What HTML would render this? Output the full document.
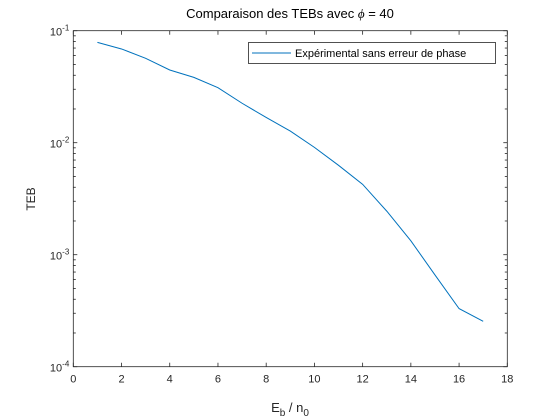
<!DOCTYPE html>
<html><head><meta charset="utf-8"><style>
body{margin:0;background:#fff;}
svg{display:block;font-family:"Liberation Sans",sans-serif;}
</style></head><body>
<svg id="chart" width="560" height="420" viewBox="0 0 560 420">
<rect x="0" y="0" width="560" height="420" fill="#fff"/>
<g id="axes"></g>
<polyline id="series" fill="none" stroke="#0072bd" stroke-width="1"/>
<text x="290" y="18" text-anchor="middle" font-size="13" fill="#000">Comparaison des TEBs avec <tspan font-style="italic" font-family="Liberation Serif">ϕ</tspan> = 40</text>
<text x="290" y="412" text-anchor="middle" font-size="13" fill="#262626">E<tspan font-size="10" dy="4">b</tspan><tspan dy="-4"> / n</tspan><tspan font-size="10" dy="4">0</tspan></text>
<text transform="translate(35,199) rotate(-90)" text-anchor="middle" font-size="12" fill="#262626">TEB</text>
<g>
<rect x="248.5" y="42.5" width="247" height="21" fill="#fff" stroke="#262626" stroke-width="0.8"/>
<line x1="252" y1="53" x2="291" y2="53" stroke="#0072bd" stroke-width="1"/>
<text x="295" y="57" font-size="11" fill="#000">Expérimental sans erreur de phase</text>
</g>
</svg>
<script>
const xValues=[1,2,3,4,5,6,7,8,9,10,11,12,13,14,15,16,17];
const berValues=[0.0787,0.0687,0.0567,0.0446,0.0383,0.031,0.0225,0.0168,0.0127,0.00908,0.00628,0.00425,0.00245,0.00133,0.00066,0.00033,0.000254];
const xTicks=[0,2,4,6,8,10,12,14,16,18];
const yDecades=[-4,-3,-2,-1];
const L=73.3,R=507.3,T=30.7,B=366.7;
const xs=v=>L+(v-0)/(18-0)*(R-L);
const ys=v=>B-(Math.log10(v)+4)/3*(B-T);
const NS="http://www.w3.org/2000/svg";
const ax=document.getElementById('axes');
function mk(tag,attrs,parent){const e=document.createElementNS(NS,tag);for(const k in attrs)e.setAttribute(k,attrs[k]);(parent||ax).appendChild(e);return e;}
const frame=mk('rect',{x:L,y:T,width:R-L,height:B-T,fill:'none',stroke:'#262626','stroke-width':0.8});


xTicks.forEach(t=>{const x=xs(t);
mk('line',{x1:x,y1:B,x2:x,y2:B-4,stroke:'#262626','stroke-width':0.8});
mk('line',{x1:x,y1:T,x2:x,y2:T+4,stroke:'#262626','stroke-width':0.8});
const tx=mk('text',{x:x,y:B+16,'text-anchor':'middle','font-size':11,fill:'#262626'});tx.textContent=t;


});
yDecades.forEach(d=>{const y=ys(Math.pow(10,d));
mk('line',{x1:L,y1:y,x2:L+4,y2:y,stroke:'#262626','stroke-width':0.8});
mk('line',{x1:R,y1:y,x2:R-4,y2:y,stroke:'#262626','stroke-width':0.8});
const tx=mk('text',{x:L-4,y:y+5,'text-anchor':'end','font-size':11,fill:'#262626'});
tx.innerHTML='10<tspan font-size="8" dy="-5">'+d+'</tspan>';


if(d<-1){for(let m=2;m<10;m++){const yy=ys(m*Math.pow(10,d));
mk('line',{x1:L,y1:yy,x2:L+2.5,y2:yy,stroke:'#262626','stroke-width':0.8});
mk('line',{x1:R,y1:yy,x2:R-2.5,y2:yy,stroke:'#262626','stroke-width':0.8});}}
});
document.getElementById('series').setAttribute('points',xValues.map((x,i)=>xs(x)+','+ys(berValues[i])).join(' '));
</script>
</body></html>
